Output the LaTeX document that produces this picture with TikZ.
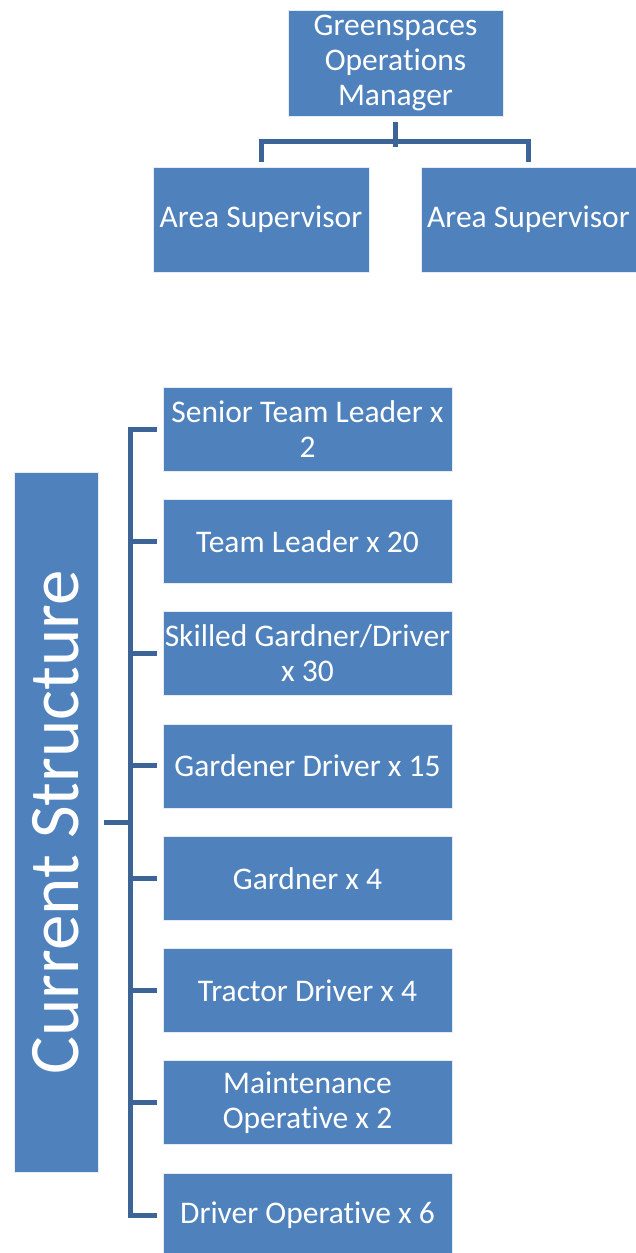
\documentclass[tikz,border=0pt]{standalone}
\usepackage{fontspec}
\setmainfont{Carlito}[Ligatures=NoCommon]
\usetikzlibrary{positioning, calc}

\definecolor{boxblue}{RGB}{79,129,189}
\definecolor{linkblue}{RGB}{60,100,150}

\begin{document}
\begin{tikzpicture}[x=1pt, y=1pt]
    % Define display style
    \tikzstyle{post}=[draw=white!85!boxblue, line width=0.8pt, fill=boxblue, text=white, inner sep=0pt,
                      align=center, font=\fontsize{31.5}{35}\selectfont]
    \tikzstyle{link}=[draw=linkblue, line width=5pt]

    % Fix the canvas
    \useasboundingbox (0,0) rectangle (636,-1253);

    % Manager and area supervisors
    \node[post, minimum width=215, minimum height=106] (manager) at (395.5,-63) {Greenspaces\\Operations\\Manager};
    \node[post, minimum width=216, minimum height=105] (areaA) at (261,-219.5) {Area Supervisor};
    \node[post, minimum width=215, minimum height=105] (areaB) at (528.5,-219.5) {Area Supervisor};

    % Draw the links below the manager
    \draw[link] ([yshift=-6]manager.south) -- ++(0,-25);
    \draw[link] ([yshift=5]areaA.north) |- ($(manager.south)+(0,-25)$) -| ([yshift=5]areaB.north);

    % Side label of the current structure
    \node[post, rotate=90, minimum width=700, minimum height=84, font=\fontsize{71}{76}\selectfont] (current) at (56,-822) {Current Structure};

    % Roles of the current structure
    \foreach \role [count=\i] in {{Senior Team Leader x\\2}, {Team Leader x 20}, {Skilled Gardner/Driver\\x 30},
                                  {Gardener Driver x 15}, {Gardner x 4}, {Tractor Driver x 4},
                                  {Maintenance\\Operative x 2}, {Driver Operative x 6}}
        \node[post, minimum width=289, minimum height=84] (role\i) at (307.5, {-429-112.3*(\i-1)}) {\role};

    % Draw the spine and the branches
    \coordinate (spine) at ($(role1.west)+(-32,0)$);
    \draw[link] ([xshift=-6]role1.west) -- (spine) |- ([xshift=-6]role8.west);
    \foreach \i in {2,...,7}
        \draw[link] ([xshift=-6]role\i.west) -- (role\i.west -| spine);
    \draw[link] ([xshift=6]current.south) -- (current.south -| spine);
\end{tikzpicture}
\end{document}
